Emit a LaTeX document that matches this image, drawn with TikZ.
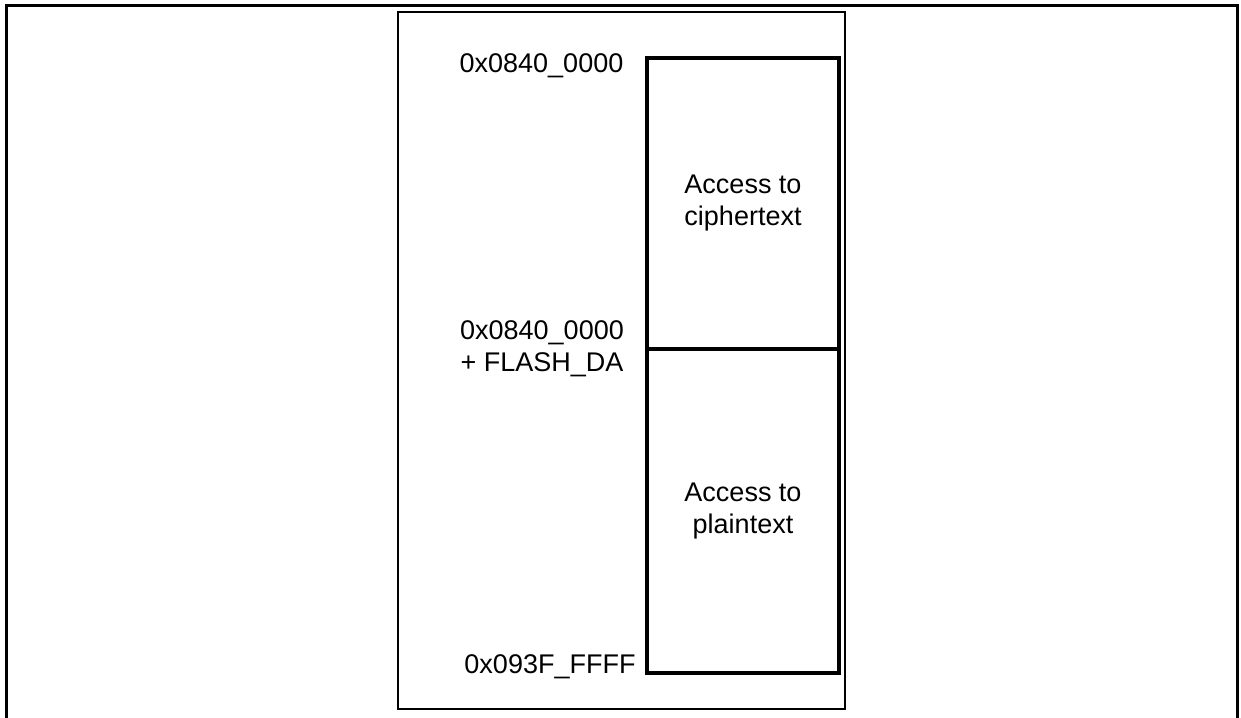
\documentclass[tikz,border=0pt]{standalone}
\usepackage{fontspec}
\setmainfont{Liberation Sans}
\begin{document}
\begin{tikzpicture}[x=1pt,y=-1pt,
  frame/.style={draw=black,line width=3pt},
  inner/.style={draw=black,line width=2.5pt},
  mem/.style={draw=black,line width=4pt},
  lbl/.style={inner sep=0pt,align=center,font=\fontsize{27}{32}\selectfont},
]
\useasboundingbox (0,0) rectangle (1241,717);
% outer frame (bottom edge not shown)
\draw[frame] (6,730) -- (6,6) -- (1237,6) -- (1237,730);
% inner frame
\node[inner,minimum width=447pt,minimum height=697pt,inner sep=0pt] (panel) at (621.5,360.5) {};
% memory regions
\node[mem,minimum width=192pt,minimum height=291pt,inner sep=0pt] (cipher) at (743,203.5) {};
\node[mem,minimum width=192pt,minimum height=324pt,inner sep=0pt] (plain) at (743,511) {};
\node[lbl] (ct) at (cipher.center) {Access to\\ciphertext};
\node[lbl] (pt) at (plain.center) {Access to\\plaintext};
% address labels
\node[lbl] (a0) at (541.5,66) {0x0840\_0000};
\node[lbl] (a1) at (542,349) {0x0840\_0000\\+ FLASH\_DA};
\node[lbl] (a2) at (550,667) {0x093F\_FFFF};
\end{tikzpicture}
\end{document}
